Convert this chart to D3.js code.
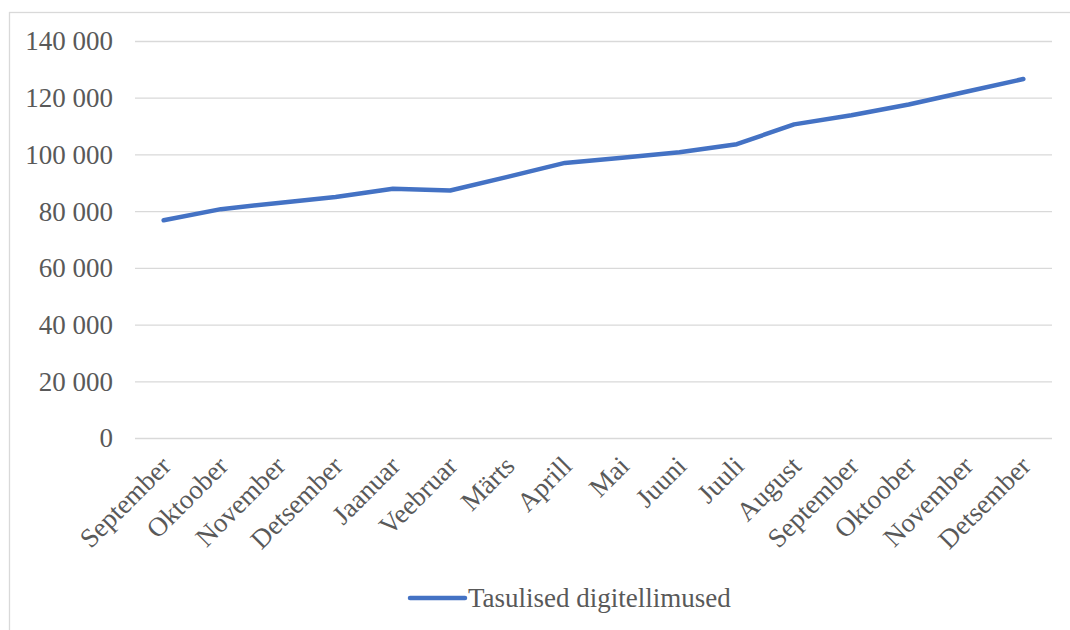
<!DOCTYPE html>
<html>
<head>
<meta charset="utf-8">
<script src="https://cdn.jsdelivr.net/npm/d3@7"></script>
<style>
  html, body { margin: 0; padding: 0; background: #fff; }
  svg { display: block; }
  text { font-family: "Liberation Serif", "DejaVu Serif", "Times New Roman", serif !important; fill: #595959; }
</style>
</head>
<body>
<svg id="chart" width="1070" height="630"></svg>
<script>
const categories = ["September", "Oktoober", "November", "Detsember", "Jaanuar", "Veebruar", "Märts", "Aprill", "Mai", "Juuni", "Juuli", "August", "September", "Oktoober", "November", "Detsember"];
const values = [76800, 80700, 82900, 85000, 87900, 87300, 92100, 97000, 98800, 100800, 103600, 110600, 113800, 117600, 122100, 126600];
const yTicks = [0, 20000, 40000, 60000, 80000, 100000, 120000, 140000];
const seriesName = "Tasulised digitellimused";

const svg = d3.select("#chart");
const W = 1070, H = 630;
const plot = { left: 135, right: 1052, top: 41, bottom: 438 };
const fontSize = 27;
const serif = '"Liberation Serif", "DejaVu Serif", "Times New Roman", serif';

// chart border
svg.append("rect")
  .attr("x", 9.5).attr("y", 12.5)
  .attr("width", W + 20).attr("height", H + 20)
  .attr("fill", "none").attr("stroke", "#d9d9d9").attr("stroke-width", 1.3);

const idx = categories.map((d, i) => i);
const x = d3.scaleBand().domain(idx).range([plot.left, plot.right]).padding(0);
const y = d3.scaleLinear().domain([0, 140000]).range([plot.bottom, plot.top]);

const fmt = v => d3.format(",")(v).replace(/,/g, " ");

// gridlines + y labels via axis
const yAxis = d3.axisLeft(y).tickValues(yTicks).tickSize(-(plot.right - plot.left)).tickPadding(22).tickFormat(fmt);
const gy = svg.append("g").attr("transform", `translate(${plot.left},0)`).call(yAxis)
  .attr("font-family", serif).attr("font-size", fontSize);
gy.select(".domain").remove();
gy.selectAll(".tick line").attr("stroke", "#d9d9d9").attr("stroke-width", 1.3);
gy.selectAll(".tick text")
  .attr("fill", "#595959")
  .attr("dy", "0.33em");

// x labels rotated
const xAxis = d3.axisBottom(x).tickSize(0).tickFormat(i => categories[i]);
const gx = svg.append("g").attr("transform", `translate(0,${plot.bottom})`).call(xAxis)
  .attr("font-family", serif).attr("font-size", fontSize);
gx.select(".domain").remove();
gx.selectAll(".tick text")
  .attr("fill", "#595959")
  .attr("text-anchor", "end")
  .attr("x", 0).attr("y", 0).attr("dy", "0.35em")
  .attr("transform", "translate(2,23) rotate(-45)");

// line
const line = d3.line()
  .x((d, i) => x(i) + x.bandwidth() / 2)
  .y(d => y(d));
svg.append("path")
  .datum(values)
  .attr("d", line)
  .attr("fill", "none")
  .attr("stroke", "#4472C4")
  .attr("stroke-width", 4.5)
  .attr("stroke-linecap", "round")
  .attr("stroke-linejoin", "round");

// legend
const lg = svg.append("g").attr("transform", "translate(410,598)")
  .attr("font-family", serif).attr("font-size", fontSize);
lg.append("line").attr("x1", 0).attr("x2", 55).attr("y1", 0).attr("y2", 0)
  .attr("stroke", "#4472C4").attr("stroke-width", 4.5).attr("stroke-linecap", "round");
lg.append("text").attr("x", 58).attr("y", 0).attr("dy", "0.33em")
  .text(seriesName);
</script>
</body>
</html>
